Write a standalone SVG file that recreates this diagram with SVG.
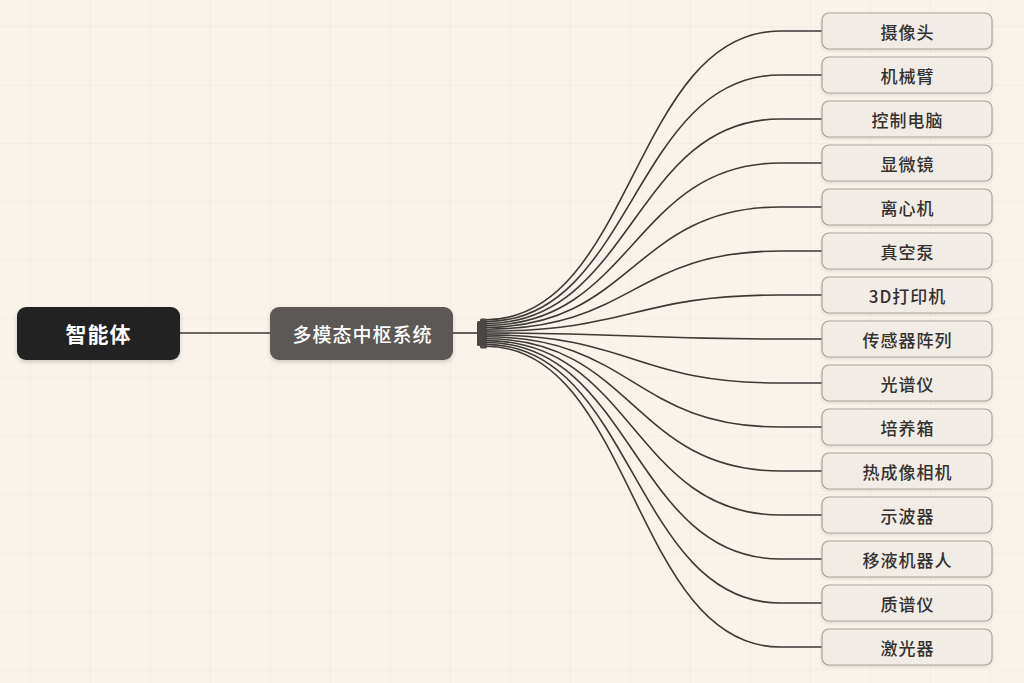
<svg xmlns="http://www.w3.org/2000/svg" width="1024" height="683" viewBox="0 0 1024 683">
<defs>
<pattern id="grid" x="30" y="26" width="60" height="58.5" patternUnits="userSpaceOnUse">
<path d="M0,0 H60 M0,0 V58.5" fill="none" stroke="#efe6dc" stroke-width="1"/>
</pattern>
<filter id="sh" x="-20%" y="-30%" width="140%" height="170%">
<feDropShadow dx="0" dy="2" stdDeviation="2" flood-color="#000" flood-opacity="0.18"/>
</filter>
<filter id="sh2" x="-10%" y="-30%" width="120%" height="170%">
<feDropShadow dx="0" dy="1.5" stdDeviation="1.5" flood-color="#000" flood-opacity="0.12"/>
</filter>
</defs>
<style>
.lbl{font-family:"Noto Sans CJK SC","Noto Sans",sans-serif;text-anchor:middle;dominant-baseline:central}
.dark{fill:#ffffff}
.dev rect{fill:#f1ece5;stroke:#a9a29a;stroke-width:1.2;filter:url(#sh2)}
.dev text{fill:#333130;font-size:17px;font-weight:500;letter-spacing:1px}
.conn path{fill:none;stroke:#3c3936;stroke-width:1.6}
</style>
<rect width="1024" height="683" fill="#f9f3ec"/>
<rect width="1024" height="683" fill="url(#grid)"/>

<g id="connectors" class="conn">
<path d="M180,333 H270"/>
<path d="M453,333 H478"/>
<path d="M486,319.7 C633,319.7 633,31 780,31 L822,31"/>
<path d="M486,321.6 C633,321.6 633,75 780,75 L822,75"/>
<path d="M486,323.5 C633,323.5 633,119 780,119 L822,119"/>
<path d="M486,325.4 C633,325.4 633,163 780,163 L822,163"/>
<path d="M486,327.3 C633,327.3 633,207 780,207 L822,207"/>
<path d="M486,329.2 C633,329.2 633,251 780,251 L822,251"/>
<path d="M486,331.1 C633,331.1 633,295 780,295 L822,295"/>
<path d="M486,333 C633,333 633,339 780,339 L822,339"/>
<path d="M486,334.9 C633,334.9 633,383 780,383 L822,383"/>
<path d="M486,336.8 C633,336.8 633,427 780,427 L822,427"/>
<path d="M486,338.7 C633,338.7 633,471 780,471 L822,471"/>
<path d="M486,340.6 C633,340.6 633,515 780,515 L822,515"/>
<path d="M486,342.5 C633,342.5 633,559 780,559 L822,559"/>
<path d="M486,344.4 C633,344.4 633,603 780,603 L822,603"/>
<path d="M486,346.3 C633,346.3 633,647 780,647 L822,647"/>
<g id="hub" fill="#4a4744">
<rect x="477" y="321" width="6" height="25" rx="1.5"/>
<rect x="480" y="318.5" width="7" height="30" rx="1.5"/>
</g>
</g>

<g id="agent">
<rect x="17" y="307" width="163" height="53" rx="9" fill="#222120" filter="url(#sh)"/>
<text class="lbl dark" x="98.5" y="333" font-size="21" font-weight="700" letter-spacing="1">智能体</text>
</g>
<g id="hub-system">
<rect x="270" y="307" width="183" height="53" rx="9" fill="#5b5854" filter="url(#sh)"/>
<text class="lbl dark" x="362.5" y="333" font-size="19" font-weight="500" letter-spacing="1">多模态中枢系统</text>
</g>

<g id="dev0" class="dev"><rect x="822" y="13" width="170" height="36" rx="7"/><text class="lbl" x="907.5" y="31">摄像头</text></g>
<g id="dev1" class="dev"><rect x="822" y="57" width="170" height="36" rx="7"/><text class="lbl" x="907.5" y="75">机械臂</text></g>
<g id="dev2" class="dev"><rect x="822" y="101" width="170" height="36" rx="7"/><text class="lbl" x="907.5" y="119">控制电脑</text></g>
<g id="dev3" class="dev"><rect x="822" y="145" width="170" height="36" rx="7"/><text class="lbl" x="907.5" y="163">显微镜</text></g>
<g id="dev4" class="dev"><rect x="822" y="189" width="170" height="36" rx="7"/><text class="lbl" x="907.5" y="207">离心机</text></g>
<g id="dev5" class="dev"><rect x="822" y="233" width="170" height="36" rx="7"/><text class="lbl" x="907.5" y="251">真空泵</text></g>
<g id="dev6" class="dev"><rect x="822" y="277" width="170" height="36" rx="7"/><text class="lbl" x="907.5" y="295">3D打印机</text></g>
<g id="dev7" class="dev"><rect x="822" y="321" width="170" height="36" rx="7"/><text class="lbl" x="907.5" y="339">传感器阵列</text></g>
<g id="dev8" class="dev"><rect x="822" y="365" width="170" height="36" rx="7"/><text class="lbl" x="907.5" y="383">光谱仪</text></g>
<g id="dev9" class="dev"><rect x="822" y="409" width="170" height="36" rx="7"/><text class="lbl" x="907.5" y="427">培养箱</text></g>
<g id="dev10" class="dev"><rect x="822" y="453" width="170" height="36" rx="7"/><text class="lbl" x="907.5" y="471">热成像相机</text></g>
<g id="dev11" class="dev"><rect x="822" y="497" width="170" height="36" rx="7"/><text class="lbl" x="907.5" y="515">示波器</text></g>
<g id="dev12" class="dev"><rect x="822" y="541" width="170" height="36" rx="7"/><text class="lbl" x="907.5" y="559">移液机器人</text></g>
<g id="dev13" class="dev"><rect x="822" y="585" width="170" height="36" rx="7"/><text class="lbl" x="907.5" y="603">质谱仪</text></g>
<g id="dev14" class="dev"><rect x="822" y="629" width="170" height="36" rx="7"/><text class="lbl" x="907.5" y="647">激光器</text></g>
</svg>
